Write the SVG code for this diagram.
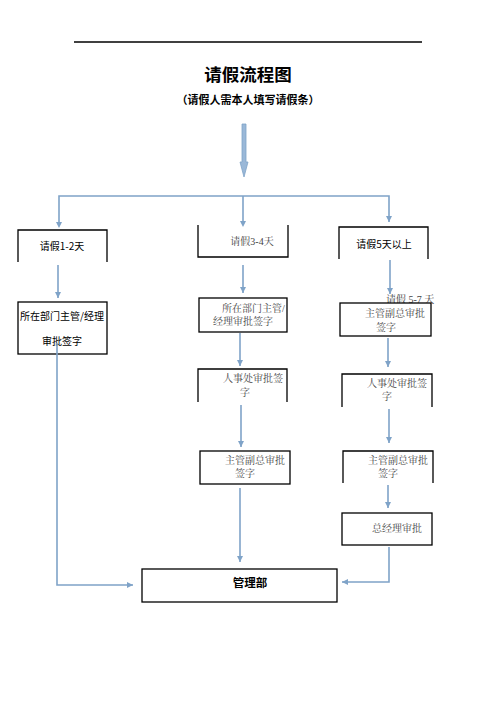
<svg xmlns="http://www.w3.org/2000/svg" width="496" height="702" viewBox="0 0 496 702">
<defs>
<marker id="ah" markerWidth="8" markerHeight="8" refX="6" refY="3" orient="auto" markerUnits="userSpaceOnUse">
<path d="M0,0 L6,3 L0,6 Z" fill="#7fa3c8"/>
</marker>
<style>
.box{fill:#fff;stroke:#000;stroke-width:1.3}
.edge{fill:none;stroke:#7fa3c8;stroke-width:1.6}
.cn{stroke:#7fa3c8;stroke-width:1.6;fill:none;marker-end:url(#ah)}
.sans{font-family:"Noto Sans CJK SC","Liberation Sans",sans-serif;fill:#000;font-size:10px}
.serif{font-family:"Liberation Serif","Noto Serif CJK SC","Noto Sans CJK SC",serif;fill:#444;font-size:10px}
.t{font-family:"Noto Sans CJK SC","Liberation Sans",sans-serif;font-weight:bold;fill:#000}
</style>
</defs>
<rect width="496" height="702" fill="#fff"/>
<line x1="74" y1="42" x2="422" y2="42" stroke="#000" stroke-width="1.5"/>
<text class="t" x="248" y="81" font-size="17.5" text-anchor="middle">请假流程图</text>
<text class="t" x="248" y="104" font-size="11" text-anchor="middle">（请假人需本人填写请假条）</text>

<text class="serif" x="386" y="303" font-size="9.5">请假 5-7 天</text>

<g id="n1">
<path class="box" d="M18,262 V230 H107 V262"/>
<text class="sans" x="62" y="250" text-anchor="middle">请假1-2天</text>
</g>
<g id="n2">
<path class="box" d="M198,225 V257 H288 V225"/>
<text class="serif" x="252" y="245" text-anchor="middle">请假3-4天</text>
</g>
<g id="n3">
<path class="box" d="M339,259 V227 H428 V259"/>
<text class="sans" x="384" y="248" text-anchor="middle">请假5天以上</text>
</g>
<g id="n4">
<rect class="box" x="18" y="302" width="89" height="52"/>
<text class="sans" x="62" y="320" text-anchor="middle">所在部门主管/经理</text>
<text class="sans" x="62" y="345" text-anchor="middle">审批签字</text>
</g>
<g id="n5">
<rect class="box" x="199" y="298" width="88" height="34"/>
<text class="serif" x="222" y="312">所在部门主管/</text>
<text class="serif" x="213" y="325">经理审批签字</text>
</g>
<g id="n6">
<rect class="box" x="340" y="303" width="91" height="33"/>
<text class="serif" x="365" y="317">主管副总审批</text>
<text class="serif" x="376" y="331">签字</text>
</g>
<g id="n7">
<path class="box" d="M198,402 V369 H287 V402"/>
<text class="serif" x="223" y="382">人事处审批签</text>
<text class="serif" x="240" y="396">字</text>
</g>
<g id="n8">
<path class="box" d="M342,407 V374 H432 V407"/>
<text class="serif" x="367" y="387">人事处审批签</text>
<text class="serif" x="382" y="400">字</text>
</g>
<g id="n9">
<rect class="box" x="200" y="451" width="90" height="33"/>
<text class="serif" x="225" y="464">主管副总审批</text>
<text class="serif" x="235" y="477">签字</text>
</g>
<g id="n10">
<path class="box" d="M343,483 V451 H433 V483"/>
<text class="serif" x="368" y="464">主管副总审批</text>
<text class="serif" x="378" y="477">签字</text>
</g>
<g id="n11">
<rect class="box" x="342" y="513" width="90" height="32"/>
<text class="serif" x="372" y="532">总经理审批</text>
</g>
<g id="n12">
<rect class="box" x="142" y="569" width="195" height="33"/>
<text class="t" x="250" y="587" font-size="11.5" text-anchor="middle">管理部</text>
</g>

<g id="connectors">
<polygon points="242,124 246,124 246,162 248,162 244,177 240,162 242,162" fill="#9ab8d8" stroke="#7fa3c8" stroke-width="0.8"/>
<path class="edge" d="M59,226 V196 H389 V222"/>
<line class="edge" x1="243" y1="196" x2="243" y2="222"/>
<path d="M56,222 L59,228 L62,222 Z M240,221 L243,227 L246,221 Z M386,216 L389,222 L392,216 Z" fill="#7fa3c8"/>
<line class="cn" x1="58" y1="265" x2="58" y2="298"/>
<line class="cn" x1="243" y1="265" x2="243" y2="293"/>
<line class="cn" x1="390" y1="260" x2="390" y2="294"/>
<line class="cn" x1="240" y1="333" x2="240" y2="366"/>
<line class="cn" x1="388" y1="338" x2="388" y2="367"/>
<line class="cn" x1="241" y1="405" x2="241" y2="447"/>
<line class="cn" x1="389" y1="409" x2="389" y2="443"/>
<line class="cn" x1="388" y1="485" x2="388" y2="508"/>
<line class="cn" x1="240" y1="488" x2="240" y2="562"/>
<path class="cn" d="M57,343 V585 H133"/>
<path class="cn" d="M389,547 V582 H342"/>
</g>
</svg>
